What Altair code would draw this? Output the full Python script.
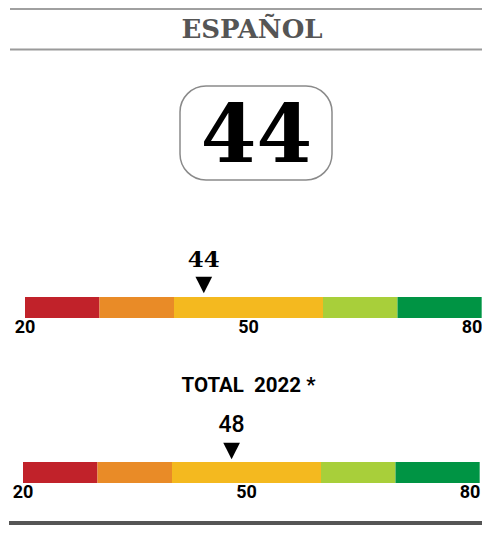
import altair as alt
import pandas as pd

title_text = "ESPAÑOL"
main_score = [44]
subtitle_text = "TOTAL\u00a0 2022 *"
total_score = [48]

seg_start = [20, 30, 40, 60, 70]
seg_end = [30, 40, 60, 70, 81.3]
seg_color = ["#C1222A", "#E98B27", "#F4B91F", "#A8CF3A", "#009444"]

tick_values = [20, 50, 80]

W, H = 474, 517

segs = pd.DataFrame({"start": seg_start, "end": seg_end, "color": seg_color})
ticks = pd.DataFrame({"v": tick_values})
one = pd.DataFrame({"k": [0]})

TRI = "M-1,-1L1,-1L0,1Z"


def gauge(score, rng, bar_y, tri_y, val_base, tick_base, val_font, val_weight):
    xs = alt.Scale(domain=[20, 80], range=rng)
    bar = alt.Chart(segs).mark_rect().encode(
        x=alt.X("start:Q", scale=xs, axis=None),
        x2="end:Q",
        y=alt.value(bar_y[0]),
        y2=alt.value(bar_y[1]),
        color=alt.Color("color:N", scale=None),
    )
    sd = pd.DataFrame({"score": score})
    tri = alt.Chart(sd).mark_point(
        shape=TRI, filled=True, size=279, color="black", opacity=1, strokeWidth=0
    ).encode(x=alt.X("score:Q", scale=xs, axis=None), y=alt.value(tri_y))
    val = alt.Chart(sd).mark_text(
        font=val_font, fontWeight=val_weight, fontSize=23, baseline="alphabetic",
        align="center", color="black"
    ).encode(x=alt.X("score:Q", scale=xs, axis=None), y=alt.value(val_base), text="score:Q")
    tk = alt.Chart(ticks).mark_text(
        font="Roboto", fontWeight="bold", fontSize=18, baseline="alphabetic", color="black"
    ).encode(x=alt.X("v:Q", scale=xs, axis=None), y=alt.value(tick_base), text="v:Q")
    return alt.layer(bar, tri, val, tk)


g1 = gauge(main_score, [17, 464], (289, 310), 277, 258.7, 325.3, "DejaVu Serif", "bold")
g2 = gauge(total_score, [15, 462], (454, 475), 443, 423.7, 490.3, "Roboto", 500)

top_line = alt.Chart(one).mark_rule(color="#a0a0a0", strokeWidth=2).encode(
    x=alt.value(2), x2=alt.value(W), y=alt.value(1))
mid_line = alt.Chart(one).mark_rule(color="#9a9a9a", strokeWidth=2).encode(
    x=alt.value(2), x2=alt.value(W), y=alt.value(41.5))
bot_line = alt.Chart(one).mark_rule(color="#555555", strokeWidth=4).encode(
    x=alt.value(1), x2=alt.value(W), y=alt.value(515))

title = alt.Chart(one).mark_text(
    text=title_text, font="DejaVu Serif", fontWeight="bold", fontSize=26,
    color="#555555", baseline="alphabetic", align="center"
).encode(x=alt.value(244), y=alt.value(29.7))

box = alt.Chart(one).mark_rect(
    cornerRadius=26, fill="white", stroke="#8a8a8a", strokeWidth=1.5
).encode(x=alt.value(172), x2=alt.value(324), y=alt.value(78), y2=alt.value(172))

big = alt.Chart(pd.DataFrame({"score": main_score})).mark_text(
    font="DejaVu Serif", fontWeight="bold", fontSize=80,
    color="black", baseline="alphabetic", align="center"
).encode(x=alt.value(248.5), y=alt.value(154), text="score:Q")

sub = alt.Chart(one).mark_text(
    text=subtitle_text, font="Roboto", fontWeight="bold", fontSize=20.5,
    color="black", baseline="alphabetic", align="center"
).encode(x=alt.value(240.5), y=alt.value(383.7))

chart = alt.layer(
    top_line, mid_line, title, box, big, g1, sub, g2, bot_line
).resolve_scale(x="independent").properties(
    width=W, height=H, padding=0, autosize=alt.AutoSizeParams(type="none")
).configure_view(stroke=None)

chart.save("out.html", embed_options={"renderer": "svg", "actions": False})
